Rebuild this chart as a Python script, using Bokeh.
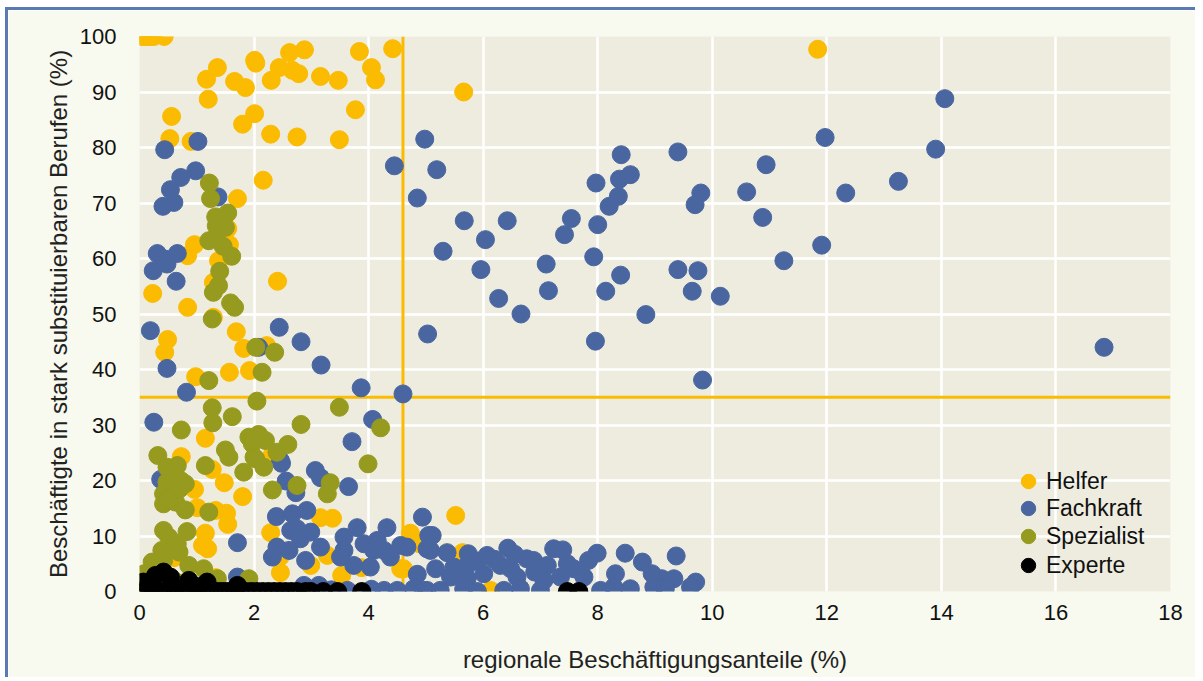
from bokeh.plotting import figure
from bokeh.models import Span, Range1d, FixedTicker, Legend, LegendItem
from bokeh.embed import file_html
from bokeh.resources import INLINE

categories = ["Helfer", "Fachkraft", "Spezialist", "Experte"]
colors = ["#fbbb00", "#4a66a0", "#969a1e", "#000000"]

helfer_x = [0.05, 0.1, 0.15, 0.2, 0.25, 0.43, 1.17, 1.36, 1.2, 1.66, 1.85, 2.01, 2.03, 2.3, 2.44, 2.62, 2.67, 2.78,
            2.88, 3.16, 3.47, 3.84, 4.05, 4.12, 4.42, 3.77, 0.56, 0.53, 0.9, 1.8, 2.01, 2.29, 2.75, 3.49, 2.16, 1.71,
            5.66, 11.84, 1.54, 1.57, 0.96, 0.84, 1.38, 1.29, 2.41, 0.23, 0.84, 1.29, 1.69, 0.49, 0.44, 1.82, 2.22,
            0.98, 1.57, 1.92, 1.15, 0.73, 2.32, 1.27, 1.48, 0.96, 1.8, 1.01, 1.33, 1.52, 1.54, 1.15, 1.1, 1.19, 2.29,
            3.16, 3.37, 2.46, 2.46, 2.99, 3.28, 3.53, 3.88, 4.56, 4.73, 4.9, 1.33, 0.6, 5.52, 4.89, 4.61, 5.64, 6.13]
helfer_y = [100, 100, 100, 100, 100, 100, 92.3, 94.4, 88.7, 91.9, 90.8, 95.7, 95.2, 92.1, 94.4, 97.1, 93.9, 93.3,
            97.6, 92.8, 92.1, 97.3, 94.4, 92.2, 97.8, 86.8, 85.6, 81.6, 81.1, 84.2, 86.1, 82.4, 81.9, 81.4, 74.1, 70.8,
            90.0, 97.7, 65.4, 62.5, 62.5, 60.5, 59.6, 55.7, 55.9, 53.7, 51.2, 49.4, 46.8, 45.4, 43.1, 43.8, 44.3,
            38.7, 39.5, 39.8, 27.6, 24.3, 24.7, 22.0, 19.6, 18.4, 17.1, 15.1, 14.6, 14.1, 12.1, 10.5, 8.3, 7.7, 10.6,
            13.3, 13.2, 6.3, 3.4, 4.7, 6.5, 2.9, 4.3, 4.1, 10.5, 8.8, 2.5, 6.1, 13.7, 8.6, 4.1, 7.0, 0.2]

fach_x = [14.06, 4.98, 11.97, 13.9, 8.41, 9.4, 4.45, 5.19, 8.57, 8.38, 10.94, 7.97, 13.25, 9.8, 10.6, 12.33, 4.85,
          8.36, 9.7, 8.2, 10.88, 5.67, 6.42, 7.54, 8.0, 7.42, 6.04, 5.3, 11.91, 11.25, 7.93, 5.96, 7.1, 9.4, 9.75,
          8.4, 6.27, 7.14, 8.14, 9.65, 10.14, 6.66, 8.84, 5.03, 7.96, 16.84, 9.83, 4.6,
          1.02, 0.44, 0.98, 0.72, 0.54, 1.37, 0.6, 0.41, 0.31, 0.66, 0.44, 0.48, 0.24, 0.64, 2.44, 0.19, 2.82, 0.48,
          3.17, 0.82, 2.08, 3.87, 0.25, 4.07, 3.71, 2.46, 0.37, 2.48, 3.07, 3.16, 2.56, 2.73, 3.65, 1.71,
          2.39, 2.67, 2.92, 2.64, 2.75, 2.99, 2.4, 2.61, 2.81, 2.9, 3.16, 2.32, 3.8, 3.57, 4.32, 4.15, 3.92, 4.09,
          3.57, 3.51, 3.74, 4.03, 4.27, 4.38, 4.56, 4.67, 4.94, 5.05, 5.02, 4.85, 4.27, 4.5, 4.79, 5.02, 2.87, 3.13,
          3.63, 1.71, 5.11, 5.08, 5.37, 5.74, 6.07, 6.43, 6.76, 7.23, 7.39, 7.99, 7.84, 8.48, 8.78, 9.37, 5.17, 5.49,
          5.72, 6.3, 6.48, 6.88, 7.12, 7.47, 7.58, 5.43, 5.72, 6.01, 6.59, 7.06, 7.35, 7.76, 8.31, 8.95, 9.12, 9.33,
          9.71, 9.62, 4.96, 5.25, 5.66, 5.9, 6.36, 6.65, 7.0, 8.05, 8.28, 8.57, 8.98, 9.18, 3.35, 4.05, 6.2, 6.9,
          5.9, 6.55, 7.7]
fach_y = [88.8, 81.5, 81.8, 79.7, 78.7, 79.2, 76.7, 76.0, 75.1, 74.3, 76.9, 73.6, 73.9, 71.8, 72.0, 71.8, 70.9,
          71.2, 69.7, 69.4, 67.4, 66.8, 66.8, 67.2, 66.1, 64.3, 63.4, 61.3, 62.4, 59.6, 60.3, 58.0, 59.0, 58.0, 57.8,
          57.0, 52.8, 54.2, 54.1, 54.1, 53.2, 50.0, 49.9, 46.4, 45.1, 44.0, 38.1, 35.6,
          81.1, 79.6, 75.8, 74.6, 72.4, 71.1, 70.1, 69.4, 60.9, 60.9, 59.9, 59.0, 57.8, 55.9, 47.6, 47.0, 45.0, 40.2,
          40.8, 35.9, 44.0, 36.7, 30.5, 31.0, 27.0, 23.6, 20.2, 23.1, 21.8, 20.5, 19.9, 17.8, 18.9, 8.8,
          13.5, 14.0, 14.6, 11.0, 11.3, 10.7, 8.0, 7.4, 9.5, 5.6, 8.0, 6.2, 11.5, 9.8, 11.5, 9.2, 8.6, 7.4,
          7.4, 6.2, 4.7, 4.4, 7.4, 6.2, 8.3, 8.0, 13.4, 10.1, 7.7, 3.1, 0.2, 0.2, 0.5, 0.2, 1.1, 1.1,
          0.2, 2.6, 10.1, 7.4, 7.0, 6.8, 6.5, 7.8, 5.9, 7.7, 7.5, 6.9, 5.6, 6.9, 5.3, 6.4, 4.1, 4.4,
          4.7, 4.7, 4.1, 5.6, 4.7, 5.0, 4.1, 2.6, 2.3, 3.2, 2.6, 2.0, 2.6, 2.6, 3.2, 3.2, 2.3, 2.3,
          1.7, 0.8, 0.2, 0.2, 0.5, 0.0, 0.2, 0.5, 0.2, 0.2, 0.8, 0.5, 0.8, 0.5, 0.3, 0.4, 5.8, 3.5,
          5.5, 6.7, 3.6]

spez_x = [1.22, 1.24, 1.54, 1.33, 1.34, 1.5, 1.21, 1.33, 1.46, 1.61, 1.4, 1.38, 1.29, 1.59, 1.66, 1.27, 2.03, 2.36,
          2.14, 1.21, 2.05, 3.49, 1.27, 1.62, 1.28, 2.82, 4.21, 0.73, 1.91, 2.08, 2.2, 1.97, 2.59, 1.5, 2.4, 0.32,
          2.0, 1.56, 3.99, 0.48, 0.66, 1.15, 2.03, 2.17, 1.82, 0.48, 0.72, 0.8, 0.42, 0.6, 0.42, 0.63, 0.8, 1.21,
          2.32, 2.75, 3.33, 3.28, 0.42, 0.51, 0.83, 0.66, 0.69, 0.39, 0.22, 0.42, 0.86, 1.12, 0.08, 1.36, 1.91, 0.0,
          0.55, 0.7, 0.5, 0.3, 0.6]
spez_y = [73.6, 70.8, 68.2, 67.5, 65.9, 65.6, 63.2, 63.8, 62.2, 60.4, 57.7, 55.1, 53.9, 52.0, 51.2, 49.1, 44.0, 43.1,
          39.5, 38.0, 34.3, 33.2, 33.1, 31.5, 30.4, 30.1, 29.5, 29.1, 27.8, 28.3, 27.2, 26.6, 26.5, 25.5, 25.1, 24.5,
          24.2, 24.2, 23.0, 22.4, 22.7, 22.7, 23.9, 22.4, 21.5, 19.7, 20.0, 19.4, 17.6, 17.9, 15.8, 16.1, 14.7, 14.3,
          18.3, 19.1, 19.6, 17.6, 11.0, 9.8, 10.8, 8.6, 7.1, 7.4, 5.3, 5.6, 4.7, 4.1, 3.2, 2.3, 2.3, 0.2,
          21.0, 18.5, 16.5, 1.5, 2.0]

exp_x = [0.07, 0.28, 0.42, 0.54, 0.86, 1.18, 1.71, 0.2, 0.6, 1.0,
         0.02, 0.1, 0.18, 0.25, 0.33, 0.4, 0.48, 0.55, 0.62, 0.7, 0.78, 0.85, 0.92, 1.0, 1.08, 1.15, 1.22, 1.3,
         1.38, 1.45, 1.52, 1.6, 1.68, 1.75, 1.85, 1.95, 2.05, 2.15, 2.25, 2.35, 2.45, 2.55, 2.65, 2.75, 2.9, 2.99,
         3.21, 3.46, 3.88, 7.47, 7.67]
exp_y = [1.7, 2.9, 3.5, 2.6, 2.0, 1.7, 1.1, 1.0, 0.8, 0.9,
         0, 0, 0, 0, 0, 0, 0, 0, 0, 0, 0, 0, 0, 0, 0, 0, 0, 0,
         0, 0, 0, 0, 0, 0, 0, 0, 0, 0, 0, 0, 0, 0, 0, 0, 0, 0,
         0, 0, 0, 0, 0]

x_ticks = [0, 2, 4, 6, 8, 10, 12, 14, 16, 18]
y_ticks = [0, 10, 20, 30, 40, 50, 60, 70, 80, 90, 100]
x_threshold = 4.6
y_threshold = 35

FONT = "Liberation Sans"

p = figure(width=1190, height=670, output_backend="svg", toolbar_location=None,
           x_range=Range1d(0, 18), y_range=Range1d(0, 100),
           min_border_left=131, min_border_right=28, min_border_top=26, min_border_bottom=89,
           background_fill_color="#eeecde", border_fill_color="#f8f9ef")
p.styles = {"border-top": "3px solid #5b79b2", "border-left": "3px solid #5b79b2",
            "margin-left": "5px", "margin-top": "7px"}
p.outline_line_color = None

p.xaxis.ticker = FixedTicker(ticks=x_ticks)
p.yaxis.ticker = FixedTicker(ticks=y_ticks)
for ax in (p.xaxis[0], p.yaxis[0]):
    ax.axis_line_color = None
    ax.major_tick_line_color = None
    ax.minor_tick_line_color = None
    ax.major_label_text_font = FONT
    ax.major_label_text_font_size = "22px"
    ax.major_label_text_color = "#111111"
    ax.axis_label_text_font = FONT
    ax.axis_label_text_font_size = "24px"
    ax.axis_label_text_font_style = "normal"
    ax.axis_label_text_color = "#222222"
p.xaxis.axis_label = "regionale Beschäftigungsanteile (%)"
p.yaxis.axis_label = "Beschäftigte in stark substituierbaren Berufen (%)"
p.xaxis.major_label_standoff = 7
p.yaxis.major_label_standoff = 17
p.xaxis.axis_label_standoff = 23
p.yaxis.axis_label_standoff = 5

for g in (p.xgrid[0], p.ygrid[0]):
    g.grid_line_color = "white"
    g.grid_line_width = 2.5

p.add_layout(Span(location=x_threshold, dimension="height", line_color="#fbbb00", line_width=3, level="underlay"))
p.add_layout(Span(location=y_threshold, dimension="width", line_color="#fbbb00", line_width=3, level="underlay"))

series = [(helfer_x, helfer_y), (fach_x, fach_y), (spez_x, spez_y), (exp_x, exp_y)]
renderers = []
for (xs, ys), c in zip(series, colors):
    renderers.append(p.scatter(xs, ys, size=18, fill_color=c, line_color=c))

# one legend per row so that the markers can be large while rows stay tight
row_bottoms = [91, 64, 36, 7]
for r, name, yb in zip(renderers, categories, row_bottoms):
    lg = Legend(items=[LegendItem(label=name, renderers=[r])], location=(871, yb),
                background_fill_alpha=0, border_line_color=None, padding=0, margin=0, spacing=0,
                glyph_height=38, glyph_width=36, label_height=38, label_standoff=0,
                label_text_font=FONT, label_text_font_size="23px", label_text_color="#111111")
    p.add_layout(lg)

open("out.html", "w").write(file_html(p, INLINE))
